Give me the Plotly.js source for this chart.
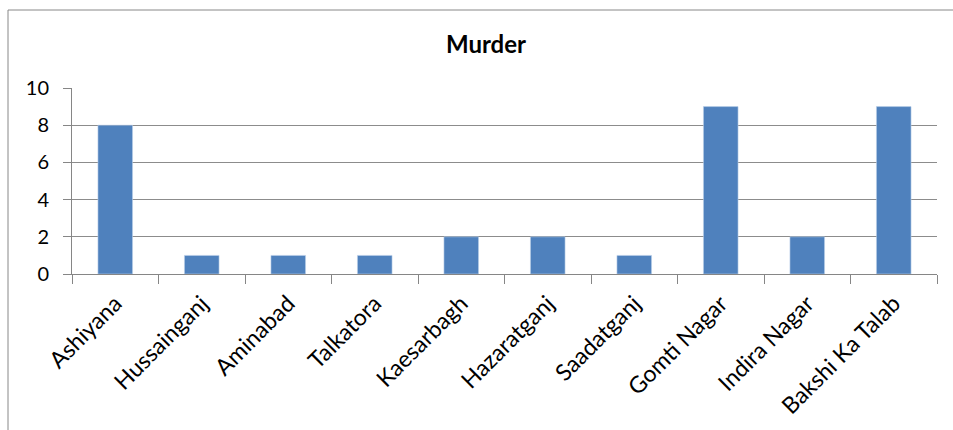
<!DOCTYPE html>
<html>
<head>
<meta charset="utf-8">
<script src="https://cdn.plot.ly/plotly-3.0.1.min.js"></script>
<style>html,body{margin:0;padding:0;background:#fff;}#chart{width:953px;height:430px;}</style>
</head>
<body>
<div id="chart"></div>
<script>
const categories = ["Ashiyana","Hussainganj","Aminabad","Talkatora","Kaesarbagh","Hazaratganj","Saadatganj","Gomti Nagar","Indira Nagar","Bakshi Ka Talab"];
const murders = [8,1,1,1,2,2,1,9,2,9];
const yTicks = [0,2,4,6,8,10];

const W = 953, H = 430;
const L = 72, R = 16, T = 88, B = 156;
const pw = W - L - R, ph = H - T - B;
const px = v => (v - L) / pw;
const py = v => (H - B - v) / ph;
const FONT = 'Lato, "Liberation Sans", sans-serif';

const trace = {
  type: 'bar',
  x: categories,
  y: murders,
  marker: {color: '#4F81BD', line: {color: '#BCD0EA', width: 0.6}},
  hoverinfo: 'x+y'
};

const layout = {
  width: W, height: H,
  margin: {l: L, r: R, t: T, b: B, pad: 0},
  paper_bgcolor: '#fff', plot_bgcolor: '#fff',
  font: {family: FONT, color: '#000', size: 16},
  title: {text: '<b>Murder</b>', font: {size: 24, family: FONT, color: '#000'}, x: 486 / W, xanchor: 'center', y: (H - 45) / H, yanchor: 'middle', xref: 'container', yref: 'container'},
  bargap: 0.6,
  showlegend: false,
  xaxis: {
    type: 'category',
    tickangle: -45,
    tickson: 'boundaries',
    ticks: 'outside', ticklen: 9, tickcolor: '#868686', tickwidth: 1,
    ticklabelstandoff: 6,
    showline: true, linecolor: '#868686', linewidth: 1,
    showgrid: false, zeroline: false,
    tickfont: {size: 23, family: FONT},
    automargin: false
  },
  yaxis: {
    range: [0, 10],
    tickvals: yTicks,
    ticks: 'outside', ticklen: 8, tickcolor: '#868686', tickwidth: 1,
    ticklabelstandoff: 10,
    showline: true, linecolor: '#868686', linewidth: 1,
    showgrid: true, gridcolor: '#8c8c8c', gridwidth: 1,
    zeroline: false,
    tickfont: {size: 20, family: FONT},
    automargin: false
  },
  shapes: [{
    type: 'rect', xref: 'paper', yref: 'paper',
    x0: px(8), x1: px(970), y0: py(460), y1: py(10),
    line: {color: '#888888', width: 1}, fillcolor: 'rgba(0,0,0,0)', layer: 'below'
  }]
};

Plotly.newPlot('chart', [trace], layout, {displayModeBar: false, staticPlot: true});
</script>
</body>
</html>
